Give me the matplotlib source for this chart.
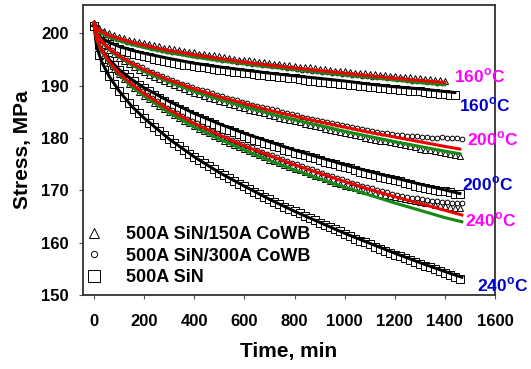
import numpy as np
import matplotlib
matplotlib.use('Agg')
import matplotlib.pyplot as plt

plt.rcParams['font.family'] = ['Liberation Sans', 'DejaVu Sans']
plt.rcParams['font.weight'] = 'bold'
plt.rcParams['mathtext.fontset'] = 'custom'
plt.rcParams['mathtext.bf'] = 'Liberation Sans:bold'
plt.rcParams['mathtext.rm'] = 'Liberation Sans:bold'

# measured points, every 20 min (triangles, squares) and offset 10 min (circles)
t_even = np.arange(0, 1480, 20)
t_odd = np.arange(10, 1480, 20)

sq_160 = [201.5, 199.2, 198.5, 197.9, 197.4, 197.0, 196.7, 196.4, 196.1, 195.8, 195.6, 195.4, 195.2, 195.0,
          194.8, 194.6, 194.4, 194.2, 194.0, 193.9, 193.7, 193.6, 193.5, 193.3, 193.2, 193.1, 193.0, 192.8,
          192.7, 192.6, 192.5, 192.4, 192.3, 192.1, 192.0, 191.9, 191.8, 191.7, 191.6, 191.5, 191.4, 191.3,
          191.1, 191.0, 190.9, 190.8, 190.7, 190.6, 190.5, 190.4, 190.3, 190.2, 190.1, 190.0, 189.9, 189.8,
          189.7, 189.6, 189.5, 189.4, 189.3, 189.2, 189.1, 189.0, 189.0, 188.9, 188.8, 188.7, 188.6, 188.5,
          188.4, 188.3, 188.2]
sq_200 = [201.5, 197.7, 196.2, 195.0, 194.0, 193.1, 192.3, 191.6, 190.9, 190.2, 189.6, 188.9, 188.3, 187.7,
          187.1, 186.6, 186.1, 185.6, 185.1, 184.6, 184.2, 183.8, 183.4, 183.0, 182.6, 182.2, 181.8, 181.5,
          181.1, 180.8, 180.4, 180.1, 179.7, 179.4, 179.1, 178.8, 178.5, 178.2, 177.8, 177.5, 177.2, 176.9,
          176.7, 176.4, 176.1, 175.8, 175.5, 175.2, 175.0, 174.7, 174.4, 174.2, 173.9, 173.6, 173.4, 173.1,
          172.9, 172.6, 172.4, 172.1, 171.9, 171.7, 171.4, 171.2, 170.9, 170.7, 170.5, 170.3, 170.1, 169.9,
          169.8, 169.6, 169.4, 169.3]
sq_240 = [201.5, 195.9, 193.6, 191.8, 190.3, 189.0, 187.8, 186.7, 185.6, 184.7, 183.8, 182.9, 182.1, 181.3,
          180.5, 179.8, 179.0, 178.4, 177.7, 177.0, 176.4, 175.8, 175.2, 174.6, 174.0, 173.4, 172.9, 172.3,
          171.8, 171.3, 170.8, 170.3, 169.7, 169.3, 168.8, 168.3, 167.8, 167.4, 166.9, 166.4, 166.0, 165.6,
          165.1, 164.7, 164.3, 163.8, 163.4, 163.0, 162.6, 162.2, 161.6, 161.2, 160.8, 160.4, 160.1, 159.7,
          159.2, 158.8, 158.5, 158.1, 157.7, 157.4, 157.0, 156.6, 156.3, 155.9, 155.6, 155.3, 154.9, 154.6,
          154.2, 153.9, 153.5, 153.0]

tri_160 = [202.0, 201.0, 200.5, 200.1, 199.7, 199.4, 199.1, 198.8, 198.6, 198.3, 198.2, 197.9, 197.8, 197.5,
           197.3, 197.2, 197.0, 196.8, 196.6, 196.5, 196.4, 196.1, 196.0, 195.9, 195.8, 195.6, 195.5, 195.3,
           195.1, 195.0, 194.9, 194.9, 194.7, 194.5, 194.5, 194.3, 194.2, 194.2, 194.0, 193.9, 193.8, 193.6,
           193.5, 193.5, 193.3, 193.2, 193.2, 193.0, 192.9, 192.9, 192.8, 192.6, 192.5, 192.5, 192.4, 192.2,
           192.2, 192.1, 192.0, 191.9, 191.8, 191.7, 191.6, 191.6, 191.5, 191.4, 191.3, 191.2, 191.1, 191.1,
           191.0]
tri_200 = [202.0, 199.0, 197.8, 196.8, 196.1, 195.3, 194.7, 194.1, 193.6, 193.1, 192.6, 192.1, 191.7, 191.3,
           190.9, 190.5, 190.1, 189.7, 189.4, 189.0, 188.7, 188.4, 188.0, 187.7, 187.4, 187.1, 186.8, 186.5,
           186.3, 186.0, 185.7, 185.4, 185.2, 184.9, 184.7, 184.4, 184.2, 183.9, 183.7, 183.4, 183.2, 183.0,
           182.7, 182.5, 182.3, 182.1, 181.8, 181.6, 181.4, 181.2, 181.0, 180.8, 180.6, 180.3, 180.1, 179.9,
           179.7, 179.5, 179.4, 179.2, 179.0, 178.8, 178.6, 178.4, 178.2, 178.0, 177.8, 177.7, 177.5, 177.3,
           177.1, 176.9, 176.8, 176.6]
tri_240 = [202.0, 197.6, 195.8, 194.4, 193.2, 192.2, 191.2, 190.4, 189.5, 188.8, 188.1, 187.4, 186.7, 186.1,
           185.5, 184.9, 184.4, 183.8, 183.3, 182.8, 182.3, 181.8, 181.3, 180.9, 180.4, 180.0, 179.5, 179.1,
           178.7, 178.3, 177.9, 177.5, 177.1, 176.7, 176.3, 175.9, 175.6, 175.2, 174.8, 174.5, 174.1, 173.8,
           173.5, 173.1, 172.8, 172.5, 172.1, 171.8, 171.5, 171.2, 170.9, 170.6, 170.4, 170.1, 169.9, 169.7,
           169.5, 169.3, 169.1, 168.9, 168.7, 168.5, 168.3, 168.1, 167.9, 167.8, 167.6, 167.5, 167.3, 167.2,
           167.0, 166.9, 166.7, 166.6]

cir_160 = [200.9, 200.2, 199.7, 199.4, 199.0, 198.7, 198.4, 198.2, 197.9, 197.7, 197.5, 197.3, 197.1, 196.9,
           196.7, 196.5, 196.4, 196.2, 196.0, 195.9, 195.7, 195.6, 195.4, 195.3, 195.2, 195.0, 194.9, 194.8,
           194.6, 194.5, 194.4, 194.2, 194.1, 194.0, 193.9, 193.8, 193.7, 193.5, 193.4, 193.3, 193.2, 193.1,
           193.0, 192.9, 192.8, 192.7, 192.6, 192.5, 192.4, 192.3, 192.2, 192.1, 192.0, 191.9, 191.8, 191.7,
           191.7, 191.6, 191.5, 191.4, 191.3, 191.2, 191.1, 191.0, 190.9, 190.9, 190.8, 190.7, 190.6, 190.5]
cir_200 = [200.0, 198.6, 197.6, 196.8, 196.1, 195.5, 194.9, 194.4, 193.9, 193.5, 193.0, 192.6, 192.2, 191.8,
           191.4, 191.1, 190.7, 190.4, 190.1, 189.8, 189.4, 189.1, 188.9, 188.6, 188.3, 188.0, 187.7, 187.5,
           187.2, 186.9, 186.7, 186.4, 186.2, 186.0, 185.7, 185.5, 185.3, 185.0, 184.8, 184.6, 184.4, 184.1,
           183.9, 183.7, 183.5, 183.3, 183.1, 182.9, 182.7, 182.5, 182.3, 182.1, 181.9, 181.7, 181.5, 181.3,
           181.2, 181.0, 180.9, 180.7, 180.6, 180.5, 180.4, 180.3, 180.3, 180.2, 180.2, 180.1, 180.1, 180.2,
           180.1, 180.0, 180.1, 179.9]
cir_240 = [199.0, 196.8, 195.3, 194.0, 193.0, 192.0, 191.2, 190.4, 189.6, 188.9, 188.2, 187.6, 187.0, 186.4,
           185.8, 185.3, 184.7, 184.2, 183.7, 183.2, 182.8, 182.3, 181.9, 181.4, 181.0, 180.6, 180.1, 179.7,
           179.3, 178.9, 178.5, 178.2, 177.8, 177.4, 177.0, 176.7, 176.3, 176.0, 175.6, 175.3, 175.0, 174.6,
           174.3, 174.0, 173.7, 173.3, 173.0, 172.7, 172.4, 172.1, 171.8, 171.5, 171.2, 170.9, 170.6, 170.4,
           170.1, 169.9, 169.6, 169.4, 169.2, 169.0, 168.8, 168.6, 168.5, 168.3, 168.2, 168.0, 167.9, 167.8,
           167.7, 167.6, 167.6, 167.5]

# fitted curves
t_fit = [0, 10, 30, 60, 100, 150, 200, 300, 400, 500, 600, 700, 800, 900, 1000, 1100, 1200, 1300, 1400]
t_fit_160sq = t_fit + [1440]
t_fit_200 = t_fit + [1460]
t_fit_240 = t_fit + [1468]

red_160 = [202.0, 201.0, 200.3, 199.6, 199.0, 198.3, 197.7, 196.7, 195.9, 195.2, 194.5, 193.9, 193.4, 192.9,
           192.4, 191.9, 191.4, 191.0, 190.6]
green_160 = [202.0, 200.8, 200.0, 199.3, 198.6, 197.9, 197.3, 196.3, 195.5, 194.8, 194.2, 193.6, 193.1, 192.6,
             192.1, 191.6, 191.1, 190.6, 190.2]
black_160 = [201.5, 200.0, 199.1, 198.3, 197.5, 196.8, 196.2, 195.2, 194.3, 193.6, 193.0, 192.4, 191.9, 191.4,
             190.9, 190.3, 189.8, 189.4, 188.9, 188.7]
red_200 = [202.0, 200.0, 198.5, 197.1, 195.7, 194.3, 193.1, 191.1, 189.4, 187.9, 186.6, 185.3, 184.2, 183.1,
           182.1, 181.1, 180.2, 179.3, 178.4, 177.9]
green_200 = [202.0, 199.9, 198.4, 196.9, 195.5, 194.0, 192.7, 190.7, 188.9, 187.4, 186.0, 184.7, 183.5, 182.4,
             181.3, 180.3, 179.3, 178.4, 177.5, 177.0]
black_200 = [201.5, 198.8, 196.9, 195.0, 193.1, 191.2, 189.6, 187.0, 184.7, 182.7, 180.9, 179.3, 177.7, 176.3,
             174.9, 173.6, 172.4, 171.2, 170.1, 169.4]
red_240 = [202.0, 199.0, 196.8, 194.6, 192.4, 190.3, 188.5, 185.4, 182.8, 180.6, 178.5, 176.7, 174.9, 173.3,
           171.7, 170.2, 168.8, 167.5, 166.2, 165.3]
green_240 = [202.0, 198.9, 196.6, 194.3, 192.1, 189.8, 188.0, 184.8, 182.1, 179.8, 177.7, 175.7, 173.9, 172.2,
             170.6, 169.1, 167.6, 166.2, 164.8, 164.0]
black_240 = [201.5, 197.5, 194.6, 191.8, 189.0, 186.1, 183.8, 179.8, 176.4, 173.4, 170.8, 168.3, 166.0, 163.9,
             161.8, 159.9, 158.0, 156.2, 154.5, 153.4]

# labels at the right end
temp_labels = ['160$^{\\mathbf{o}}$C', '160$^{\\mathbf{o}}$C', '200$^{\\mathbf{o}}$C',
               '200$^{\\mathbf{o}}$C', '240$^{\\mathbf{o}}$C', '240$^{\\mathbf{o}}$C']
temp_x = [1438, 1455, 1487, 1467, 1479, 1527]
temp_y = [191.8, 186.3, 179.8, 171.3, 164.3, 151.9]
temp_col = ['#ff00ff', '#0000cc', '#ff00ff', '#0000cc', '#ff00ff', '#0000cc']

fig = plt.figure(figsize=(5.31, 3.69), dpi=100)
ax = fig.add_axes([0.156, 0.2005, 0.776, 0.7855])

mk = dict(linestyle='none', markerfacecolor='white', markeredgecolor='black', markeredgewidth=0.7)
for s in [sq_160, sq_200, sq_240]:
    ax.plot(t_even[:len(s)], s, marker='s', markersize=5.8, **mk)
for s in [tri_160, tri_200, tri_240]:
    ax.plot(t_even[:len(s)], s, marker='^', markersize=4.2, **mk)
for s in [cir_160, cir_200, cir_240]:
    ax.plot(t_odd[:len(s)], s, marker='o', markersize=3.4, **mk)

ax.plot(t_fit_160sq, black_160, color='black', lw=2.2)
ax.plot(t_fit_200, black_200, color='black', lw=2.2)
ax.plot(t_fit_240, black_240, color='black', lw=2.2)
ax.plot(t_fit, green_160, color='#138a13', lw=2.2)
ax.plot(t_fit_200, green_200, color='#138a13', lw=2.2)
ax.plot(t_fit_240, green_240, color='#138a13', lw=2.2)
ax.plot(t_fit, red_160, color='#ee0000', lw=2.2)
ax.plot(t_fit_200, red_200, color='#ee0000', lw=2.2)
ax.plot(t_fit_240, red_240, color='#ee0000', lw=2.2)

for lab, x, y, c in zip(temp_labels, temp_x, temp_y, temp_col):
    ax.text(x, y, lab, color=c, fontsize=12.5, fontweight='bold', ha='left', va='center', clip_on=False)

# legend
h1, = ax.plot([], [], marker='^', markersize=7.5, **mk)
h2, = ax.plot([], [], marker='o', markersize=4.5, **mk)
h3, = ax.plot([], [], marker='s', markersize=8.5, **mk)
ax.legend([h1, h2, h3], ['500A SiN/150A CoWB', '500A SiN/300A CoWB', '500A SiN'],
          loc='lower left', bbox_to_anchor=(0.006, 0.03), frameon=False,
          prop={'size': 13, 'weight': 'bold'}, handlelength=1.0, handletextpad=1.25,
          labelspacing=0.25, borderpad=0, borderaxespad=0)

ax.set_xlim(-45, 1600)
ax.set_ylim(150, 205.4)
ax.set_xticks(range(0, 1601, 200))
ax.set_yticks(range(150, 201, 10))
ax.tick_params(axis='both', direction='out', length=3, width=0.8, color='#555555', labelsize=12)
ax.tick_params(axis='x', pad=11)
ax.tick_params(axis='y', pad=7)
for sp in ax.spines.values():
    sp.set_color('#333333')
    sp.set_linewidth(1.3)

ax.set_xlabel('Time, min', fontsize=15, fontweight='bold', labelpad=9)
ax.set_ylabel('Stress, MPa', fontsize=15, fontweight='bold', labelpad=7)

fig.savefig('out.png', dpi=100)
